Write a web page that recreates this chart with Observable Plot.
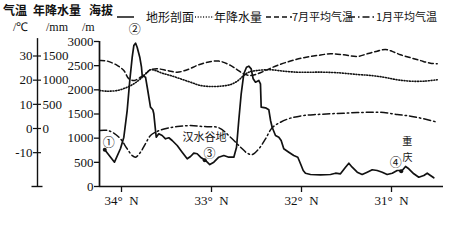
<!DOCTYPE html>
<html><head><meta charset="utf-8">
<script src="https://cdn.jsdelivr.net/npm/d3@7"></script>
<script src="https://cdn.jsdelivr.net/npm/@observablehq/plot@0.6"></script>
<style>
body{margin:0;background:#fff;}
#wrap{position:relative;width:452px;height:250px;overflow:hidden;color:#111;font-family:"Liberation Serif",serif;}
.h{position:absolute;white-space:nowrap;line-height:1;font-size:12px;}
.cjk{font-family:"Noto Sans CJK SC",sans-serif;}
.b{font-weight:bold;}
svg.sw{position:absolute;overflow:visible;}
</style></head><body><div id="wrap"></div>
<script>
// ---- terrain profile (latitude °N, elevation m)
const terrainLat = [34.186,34.078,34.011,33.974,33.937,33.908,33.881,33.863,33.844,33.826,33.797,33.778,33.770,33.733,33.708,33.678,33.652,33.641,33.622,33.614,33.586,33.548,33.511,33.474,33.437,33.381,33.326,33.270,33.233,33.197,33.159,33.122,33.067,33.019,32.974,32.919,32.863,32.808,32.752,32.722,32.697,32.670,32.641,32.611,32.586,32.559,32.537,32.511,32.474,32.456,32.448,32.400,32.363,32.344,32.326,32.289,32.252,32.226,32.197,32.141,32.086,32.041,32.011,31.981,31.956,31.900,31.789,31.678,31.622,31.567,31.511,31.474,31.437,31.381,31.326,31.270,31.214,31.159,31.103,31.048,30.992,30.937,30.881,30.844,30.808,30.752,30.697,30.641,30.603,30.567,30.530];
const terrainElev = [759,503,786,1020,1572,2193,2675,2917,2965,2882,2675,2468,2297,2261,1986,1641,1587,1504,1159,1020,1090,1055,987,1008,952,848,710,573,621,689,677,606,538,455,503,606,641,606,606,813,1366,1918,2332,2468,2489,2435,2228,2158,2193,2125,1641,1628,1587,1366,1227,1055,1020,952,780,710,641,606,470,331,275,248,242,248,275,263,399,482,399,296,248,296,346,331,296,248,275,331,331,414,366,263,192,228,275,228,180];
// ---- July mean temperature (°C)
const julyLat = [34.244,34.159,34.048,33.974,33.919,33.856,33.789,33.733,33.678,33.603,33.492,33.381,33.270,33.159,33.048,32.919,32.789,32.714,32.641,32.567,32.492,32.400,32.270,32.122,31.974,31.826,31.678,31.530,31.381,31.270,31.159,31.067,30.992,30.900,30.789,30.678,30.567,30.492];
const julyTemp = [28.1,27.9,26.1,24.0,20.6,19.9,21.2,22.6,24.3,24.7,24.0,23.3,24.3,26.1,27.4,27.9,26.1,24.3,22.6,21.9,22.6,24.0,26.1,27.9,29.3,30.2,30.9,30.5,29.8,30.9,32.0,32.7,31.9,30.5,29.3,28.1,27.0,26.8];
// ---- January mean temperature (°C)
const janLat = [34.244,34.159,34.086,34.011,33.937,33.881,33.844,33.789,33.733,33.678,33.603,33.492,33.381,33.233,33.086,32.919,32.789,32.678,32.603,32.548,32.474,32.400,32.326,32.233,32.122,31.974,31.826,31.678,31.530,31.381,31.233,31.086,30.937,30.789,30.641,30.492];
const janTemp = [-0.8,-0.8,-1.9,-4.3,-8.4,-11.2,-11.9,-9.8,-6.3,-2.9,-1.2,0.1,0.8,1.2,0.8,0.3,-3.6,-7.7,-10.2,-10.8,-8.4,-4.3,0.3,2.6,4.3,5.4,5.8,6.1,6.3,6.6,6.7,6.6,5.8,5.1,4.0,2.6];
// ---- annual precipitation (mm)
const precLat = [34.244,34.159,34.048,33.937,33.863,33.789,33.714,33.678,33.622,33.548,33.456,33.344,33.233,33.122,33.011,32.900,32.789,32.714,32.641,32.586,32.492,32.344,32.197,32.048,31.900,31.752,31.586,31.381,31.233,31.086,30.937,30.789,30.641,30.492];
const precVal = [786,772,786,854,925,1028,1165,1215,1200,1144,1097,1028,958,890,869,875,910,979,1097,1165,1200,1215,1186,1165,1165,1165,1152,1117,1097,1061,1008,979,979,1008];
// ---- axes
const latTicks = [34,33,32,31];
const elevTicks = [0,500,1000,1500,2000,2500,3000];
const tempTicks = [30,20,10,0,-10];
const precTicks = [1500,1000,500,0];
// ---- site markers and labels
const siteNames = ["①","②","③","④"];
const siteLabelLat = [34.141,33.852,33.022,30.952];
const siteLabelElev = [896,3242,672,482];
const dotLat = [34.186,33.075,30.892];
const dotElev = [759,545,317];
const noteText = ["汉水谷地","重","庆"];
const noteLat = [33.078,30.826,30.822];
const noteElev = [1020,920,585];

// shared vertical axis: 0 °C ↔ 0 mm ↔ 1200 m; 10 °C ↔ 500 mm ↔ 500 m
const tempToY = t => 1200 + 50 * t;
const precToY = p => 1200 + p;
const latLeft = 34 + 22/90, latRight = 31 - 52/90;

const zip = (a, b, k1, k2) => a.map((v, i) => ({[k1]: v, [k2]: b[i]}));
const terrain = zip(terrainLat, terrainElev, "lat", "v");
const july = zip(julyLat, julyTemp, "lat", "v");
const jan = zip(janLat, janTemp, "lat", "v");
const prec = zip(precLat, precVal, "lat", "v");
const sites = siteNames.map((s, i) => ({s, lat: siteLabelLat[i], v: siteLabelElev[i]}));
const dots = zip(dotLat, dotElev, "lat", "v");
const notes = noteText.map((s, i) => ({s, lat: noteLat[i], v: noteElev[i]}));

const ink = "#111";
const serif = '"Liberation Serif", "Times New Roman", serif';
const cjk = '"Noto Sans CJK SC", sans-serif';
const chart = Plot.plot({
  width: 452, height: 250,
  marginLeft: 99, marginRight: 9, marginTop: 41, marginBottom: 64,
  style: {fontFamily: serif, fontSize: "12px", background: "transparent", color: ink},
  x: {domain: [latLeft, latRight]},
  y: {domain: [0, 3000]},
  marks: [
    // left temperature / precipitation axis
    Plot.ruleX([latLeft], {y1: 0, y2: 3060, dx: -62, stroke: ink, strokeWidth: 1.4}),
    Plot.axisY({ticks: tempTicks.map(tempToY), tickSize: 8, dx: -58, fill: "none", label: null, strokeWidth: 1.2}),
    Plot.axisY({ticks: [0], tickSize: 11, dx: -56.5, fill: "none", label: null, strokeWidth: 1.4}),
    Plot.text(tempTicks, {frameAnchor: "left", y: tempToY, text: d => String(d), dx: -67, textAnchor: "end", fontSize: 13, fontFamily: serif, fill: ink}),
    Plot.text(precTicks, {frameAnchor: "left", y: precToY, text: d => String(d), dx: -57, textAnchor: "start", fontSize: 13, fontFamily: serif, fill: ink}),
    // elevation axis
    Plot.ruleX([latLeft], {y1: 0, y2: 3000, stroke: ink, strokeWidth: 1.7}),
    Plot.axisY({ticks: elevTicks, tickSize: 5, tickPadding: 1, label: null, strokeWidth: 1.3, fontSize: 13, fontFamily: serif,
                tickFormat: d => String(d)}),
    // latitude axis
    Plot.ruleY([0], {stroke: ink, strokeWidth: 1.7}),
    Plot.axisX({ticks: latTicks, tickSize: 6, tickPadding: 3, label: null, strokeWidth: 1.3, fontSize: 13, fontFamily: serif,
                tickFormat: d => `${d}°\u00a0\u00a0N`}),
    // climate curves
    Plot.line(prec, {x: "lat", y: d => precToY(d.v), stroke: ink, strokeWidth: 1.6, strokeDasharray: "1,1.7", curve: "catmull-rom"}),
    Plot.line(july, {x: "lat", y: d => tempToY(d.v), stroke: ink, strokeWidth: 1.5, strokeDasharray: "5,3", curve: "catmull-rom"}),
    Plot.line(jan, {x: "lat", y: d => tempToY(d.v), stroke: ink, strokeWidth: 1.5, strokeDasharray: "7,3,1.5,3", curve: "catmull-rom"}),
    // terrain profile
    Plot.line(terrain, {x: "lat", y: "v", stroke: ink, strokeWidth: 1.7, strokeLinejoin: "round"}),
    Plot.dot(dots, {x: "lat", y: "v", r: 2, fill: ink}),
    Plot.text(sites, {x: "lat", y: "v", text: "s", fontSize: 12, fontFamily: cjk, fill: ink}),
    Plot.text(notes, {x: "lat", y: "v", text: "s", fontSize: d => d.s.length > 1 ? 11 : 10, fontFamily: cjk, fill: ink})
  ]
});

const wrap = document.getElementById("wrap");
wrap.appendChild(chart);

// header rows and legend (HTML overlay above the plot area)
const headerItems = [
  {t: "气温", x: 3, y: 4, cls: "cjk b"},
  {t: "年降水量", x: 33, y: 4, cls: "cjk b"},
  {t: "海拔", x: 89, y: 4, cls: "cjk b"},
  {t: "/℃", x: 13, y: 21, cls: ""},
  {t: "/mm", x: 46, y: 21, cls: ""},
  {t: "/m", x: 82, y: 21, cls: ""}
];
const legendLabels = ["地形剖面", "年降水量", "7月平均气温", "1月平均气温"];
const legendDash = [null, "1,1.7", "5,3", "7,3,1.5,3"];
const legendSwatchX = [117, 195, 266, 348];
const legendSwatchW = [17, 19, 26, 27];
const legendTextX = [146, 214, 292, 376];
for (const h of headerItems) {
  const d = document.createElement("div");
  d.className = "h " + h.cls;
  d.style.left = h.x + "px"; d.style.top = h.y + "px";
  d.textContent = h.t;
  wrap.appendChild(d);
}
legendLabels.forEach((lab, i) => {
  const ns = "http://www.w3.org/2000/svg";
  const s = document.createElementNS(ns, "svg");
  s.setAttribute("class", "sw");
  s.setAttribute("width", legendSwatchW[i]); s.setAttribute("height", 4);
  s.style.left = legendSwatchX[i] + "px"; s.style.top = "15px";
  const l = document.createElementNS(ns, "line");
  l.setAttribute("x1", 0); l.setAttribute("x2", legendSwatchW[i]);
  l.setAttribute("y1", 2); l.setAttribute("y2", 2);
  l.setAttribute("stroke", ink); l.setAttribute("stroke-width", 1.5);
  if (legendDash[i]) l.setAttribute("stroke-dasharray", legendDash[i]);
  s.appendChild(l);
  wrap.appendChild(s);
  const d = document.createElement("div");
  d.className = "h cjk";
  d.style.left = legendTextX[i] + "px"; d.style.top = "11px";
  d.style.fontSize = i >= 2 ? "11px" : "12px";
  d.textContent = lab;
  wrap.appendChild(d);
});
</script></body></html>
